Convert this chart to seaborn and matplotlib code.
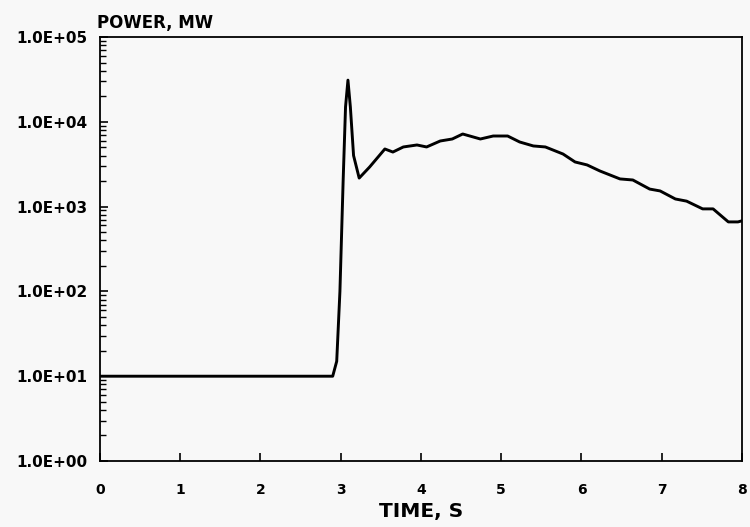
import matplotlib.pyplot as plt
import matplotlib.ticker as mticker
import seaborn as sns
import pandas as pd

# values (time in s, power in MW)
time_s = [0.0, 1.0, 2.0, 2.90, 2.95, 2.99, 3.03, 3.06, 3.09, 3.12, 3.16, 3.23,
          3.36, 3.55, 3.65, 3.78, 3.95, 4.07, 4.24, 4.39, 4.52, 4.74, 4.90,
          5.08, 5.23, 5.40, 5.55, 5.77, 5.92, 6.07, 6.23, 6.48, 6.64, 6.85,
          6.98, 7.17, 7.31, 7.51, 7.64, 7.83, 7.95, 8.0]
power_mw = [10, 10, 10, 10, 15, 100, 2000, 15000, 31000, 15000, 4000, 2170,
            2930, 4780, 4400, 5050, 5330, 5050, 5940, 6270, 7180, 6270, 6800,
            6800, 5780, 5190, 5050, 4170, 3360, 3100, 2630, 2120, 2060, 1610,
            1530, 1230, 1160, 940, 940, 660, 660, 680]

x_ticks = [0, 1, 2, 3, 4, 5, 6, 7, 8]
y_ticks = [1e0, 1e1, 1e2, 1e3, 1e4, 1e5]
y_labels = ["1.0E+00", "1.0E+01", "1.0E+02", "1.0E+03", "1.0E+04", "1.0E+05"]

sns.set_style("ticks")
plt.rcParams.update(
    {
        "font.family": ["DejaVu Sans"],
        "font.weight": "bold",
        "text.color": "black",
        "axes.labelcolor": "black",
        "xtick.color": "black",
        "ytick.color": "black",
        "axes.linewidth": 1.3,
        "xtick.direction": "in",
        "ytick.direction": "in",
    }
)

df = pd.DataFrame({"time": time_s, "power": power_mw})

fig = plt.figure(figsize=(7.5, 5.27), dpi=100, facecolor="#f8f8f8")
ax = fig.add_axes([0.1333, 0.1252, 0.856, 0.8046])
ax.set_facecolor("#f8f8f8")

sns.lineplot(data=df, x="time", y="power", color="black", linewidth=2.1, ax=ax)

ax.set_yscale("log")
ax.set_xlim(0, 8)
ax.set_ylim(1, 1e5)
ax.set_xticks(x_ticks)
ax.set_xticklabels([str(t) for t in x_ticks], fontsize=10, fontweight="bold")
ax.set_yticks(y_ticks)
ax.set_yticklabels(y_labels, fontsize=11, fontweight="bold")
ax.yaxis.set_minor_locator(mticker.LogLocator(base=10, subs=range(2, 10), numticks=20))
ax.yaxis.set_minor_formatter(mticker.NullFormatter())
ax.tick_params(axis="x", which="major", length=6, width=1.2, pad=15.5)
ax.tick_params(axis="y", which="major", length=6, width=1.2, pad=9)
ax.tick_params(axis="y", which="minor", length=4, width=1.0)

for sp in ax.spines.values():
    sp.set_visible(True)
    sp.set_color("black")

ax.set_xlabel("TIME, S", fontsize=14.5, fontweight="bold", labelpad=4)
ax.set_ylabel("")
ax.text(-0.004, 1.021, "POWER, MW", transform=ax.transAxes, fontsize=12,
        fontweight="bold", ha="left", va="baseline")

fig.savefig("out.png", dpi=100, facecolor=fig.get_facecolor())
